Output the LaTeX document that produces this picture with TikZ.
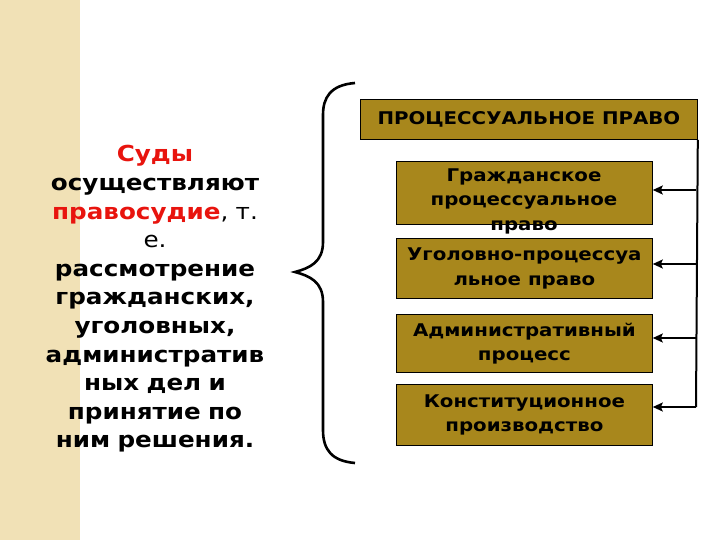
\documentclass[tikz,border=0pt]{standalone}
\usepackage{fontspec}
\setmainfont{DejaVu Sans}
\newfontfamily\wideb[FakeStretch=1.12]{DejaVu Sans Bold}
\newfontfamily\widen[FakeStretch=1.12]{DejaVu Sans}
\newfontfamily\boxf[FakeStretch=1.13]{DejaVu Sans Bold}
\usetikzlibrary{arrows.meta}
\definecolor{strip}{HTML}{F1E1B6}
\definecolor{gold}{HTML}{A8871C}
\definecolor{redt}{HTML}{E8140E}
\tikzset{
  box/.style={draw=black, line width=0.8pt, fill=gold, font=\boxf\fontsize{17.5}{24.5}\selectfont, align=center, inner sep=0pt},
  link/.style={line width=2pt, -{Stealth[length=10pt,width=9pt,inset=2pt]}},
}
\begin{document}
\begin{tikzpicture}[x=1pt,y=-1pt]
\useasboundingbox (0,0) rectangle (720,540);
\fill[strip] (0,0) rectangle (80,540);
% left text
\node[align=center, font=\wideb\fontsize{22}{28.6}\selectfont, text width=260pt] (txt) at (155,299)
{\textcolor{redt}{Суды}\\ осуществляют\\ \textcolor{redt}{правосудие}{\widen, т.}\\ {\widen е.}\\ рассмотрение\\ гражданских,\\ уголовных,\\ административ\\ ных дел и\\ принятие по\\ ним решения.};
% brace
\draw[line width=2.6pt] (355,83) .. controls (330,85) and (323,98) .. (323,115)
  -- (323,242) .. controls (323,262) and (310,268) .. (295,272)
  .. controls (310,276) and (323,282) .. (323,302)
  -- (323,430) .. controls (323,450) and (332,461) .. (355,463);
% boxes
\node[box, minimum width=337pt, minimum height=40pt, anchor=north west] (top) at (360,99) {ПРОЦЕССУАЛЬНОЕ ПРАВО};
\node[box, minimum width=256pt, minimum height=63pt, anchor=north west] (b1) at (396,161) {};
\node[font=\boxf\fontsize{17.5}{24.5}\selectfont, align=center, anchor=center, inner sep=0pt] (b1t) at (524,201) {Гражданское\\ процессуальное\\ право};
\node[box, minimum width=256pt, minimum height=60pt, anchor=north west] (b2) at (396,238) {Уголовно-процессуа\\ льное право};
\node[box, minimum width=256pt, minimum height=58pt, anchor=north west] (b3) at (396,314) {Административный\\ процесс};
\node[box, minimum width=256pt, minimum height=61pt, anchor=north west] (b4) at (396,384) {Конституционное\\ производство};
% connectors
\coordinate (v1) at (696,190);
\coordinate (v2) at (696,264);
\coordinate (v3) at (696,338);
\coordinate (v4) at (696,407);
\draw[line width=2pt] (top.south east) -- (v4);
\draw[link] (v1) -- (b1.east |- v1);
\draw[link] (v2) -- (b2.east |- v2);
\draw[link] (v3) -- (b3.east |- v3);
\draw[link] (v4) -- (b4.east |- v4);
\end{tikzpicture}
\end{document}
